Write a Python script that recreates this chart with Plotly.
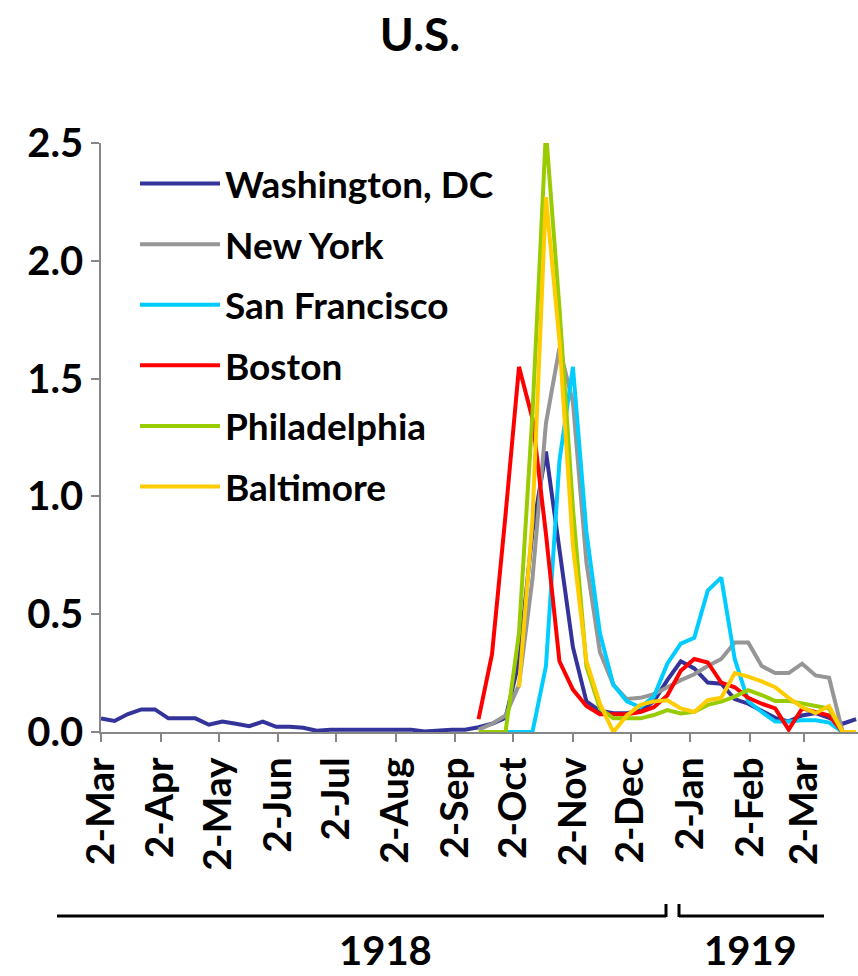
import datetime as dt
import plotly.graph_objects as go

# ---- data (weekly, starting 2 Mar 1918) ----
start_date = dt.date(1918, 3, 2)
n_weeks = 57
week_dates = [start_date + dt.timedelta(days=7 * k) for k in range(n_weeks)]

washington = [0.058, 0.047, 0.076, 0.096, 0.096, 0.058, 0.058, 0.058, 0.031, 0.044,
              0.035, 0.025, 0.044, 0.022, 0.022, 0.018, 0.005, 0.010, 0.010, 0.010,
              0.010, 0.010, 0.010, 0.010, 0.002, 0.008, 0.010, 0.010, 0.020, 0.035,
              0.060, 0.300, 0.850, 1.190, 0.780, 0.360, 0.130, 0.090, 0.080, 0.080,
              0.090, 0.130, 0.220, 0.300, 0.270, 0.210, 0.205, 0.140, 0.120, 0.090,
              0.060, 0.045, 0.070, 0.080, 0.060, 0.035, 0.055]

new_york = [None] * 28 + [0.010, 0.035, 0.070, 0.200, 0.650, 1.310, 1.630, 1.400, 0.720, 0.340,
                          0.200, 0.140, 0.145, 0.160, 0.190, 0.220, 0.245, 0.280, 0.310, 0.380,
                          0.380, 0.280, 0.250, 0.250, 0.290, 0.240, 0.230, 0.000]

san_francisco = [None] * 30 + [0.000, 0.000, 0.000, 0.280, 1.150, 1.550, 0.850, 0.420, 0.200, 0.130,
                               0.105, 0.150, 0.290, 0.375, 0.400, 0.600, 0.655, 0.310, 0.130, 0.085,
                               0.045, 0.045, 0.050, 0.050, 0.040, 0.000]

boston = [None] * 28 + [0.055, 0.330, 0.920, 1.550, 1.330, 0.840, 0.300, 0.180, 0.110, 0.075,
                        0.075, 0.075, 0.085, 0.105, 0.155, 0.260, 0.310, 0.295, 0.210, 0.190,
                        0.145, 0.120, 0.100, 0.010, 0.100, 0.085, 0.070, 0.000]

philadelphia = [None] * 28 + [0.000, 0.000, 0.000, 0.420, 1.350, 2.550, 1.800, 0.950, 0.280, 0.100,
                              0.058, 0.058, 0.058, 0.072, 0.093, 0.079, 0.086, 0.115, 0.129, 0.150,
                              0.178, 0.157, 0.132, 0.132, 0.119, 0.110, 0.100, 0.000]

baltimore = [None] * 31 + [0.190, 0.900, 2.270, 1.660, 0.790, 0.300, 0.120, 0.000, 0.070,
                           0.115, 0.130, 0.135, 0.100, 0.085, 0.135, 0.145, 0.250, 0.235, 0.215,
                           0.190, 0.145, 0.105, 0.080, 0.110, 0.000, 0.000]

series_names = ["Washington, DC", "New York", "San Francisco", "Boston", "Philadelphia", "Baltimore"]
series_values = [washington, new_york, san_francisco, boston, philadelphia, baltimore]
series_colors = ["#333399", "#969696", "#00CCFF", "#FF0000", "#99CC00", "#FFCC00"]

tick_dates = ["1918-03-02", "1918-04-02", "1918-05-02", "1918-06-02", "1918-07-02",
              "1918-08-02", "1918-09-02", "1918-10-02", "1918-11-02", "1918-12-02",
              "1919-01-02", "1919-02-02", "1919-03-02"]
y_ticks = [0, 0.5, 1.0, 1.5, 2.0, 2.5]
year_labels = ["1918", "1919"]

FONT = "Lato, 'Open Sans', sans-serif"

fig = go.Figure()
for name, vals, col in zip(series_names, series_values, series_colors):
    fig.add_trace(go.Scatter(
        x=week_dates, y=vals, name=name, mode="lines",
        line=dict(color=col, width=4), legendgroup=name,
    ))

W, H = 858, 976
L, R, T, B = 101, 0, 143, 244
pw, ph = W - L - R, H - T - B


def px_x(px):
    return (px - L) / pw


def px_y(py):
    return (H - B - py) / ph


shapes = [
    dict(type="line", xref="paper", yref="paper", x0=px_x(57), x1=px_x(666), y0=px_y(916), y1=px_y(916),
         line=dict(color="black", width=3)),
    dict(type="line", xref="paper", yref="paper", x0=px_x(666), x1=px_x(666), y0=px_y(917), y1=px_y(904),
         line=dict(color="black", width=3)),
    dict(type="line", xref="paper", yref="paper", x0=px_x(679), x1=px_x(824), y0=px_y(916), y1=px_y(916),
         line=dict(color="black", width=3)),
    dict(type="line", xref="paper", yref="paper", x0=px_x(679), x1=px_x(679), y0=px_y(917), y1=px_y(904),
         line=dict(color="black", width=3)),
]

annotations = [
    dict(text="<b>%s</b>" % year_labels[0], xref="paper", yref="paper", x=px_x(385), y=px_y(950),
         showarrow=False, font=dict(family=FONT, size=40, color="black"), xanchor="center", yanchor="middle"),
    dict(text="<b>%s</b>" % year_labels[1], xref="paper", yref="paper", x=px_x(750), y=px_y(950),
         showarrow=False, font=dict(family=FONT, size=40, color="black"), xanchor="center", yanchor="middle"),
]

fig.update_layout(
    width=W, height=H,
    margin=dict(l=L, r=R, t=T, b=B, autoexpand=False),
    paper_bgcolor="white", plot_bgcolor="white",
    font=dict(family=FONT, color="black"),
    title=dict(text="<b>U.S.</b>", x=420 / W, xref="container", xanchor="center",
               y=1 - 35 / H, yref="container", yanchor="middle",
               font=dict(family=FONT, size=46, color="black")),
    showlegend=True,
    legend=dict(x=px_x(135), y=px_y(153), xanchor="left", yanchor="top",
                bgcolor="rgba(0,0,0,0)", font=dict(family=FONT, size=37, color="black", weight="bold"),
                tracegroupgap=9.5, itemwidth=80),
    shapes=shapes,
    annotations=annotations,
)

fig.update_xaxes(
    type="date", range=["1918-03-02", "1919-03-30"],
    tickmode="array", tickvals=tick_dates, tickformat="%-d-%b", tickangle=-90,
    ticks="outside", ticklen=8, tickwidth=1.5, tickcolor="#868686",
    showline=True, linecolor="#868686", linewidth=1.5,
    showgrid=False, zeroline=False,
    tickfont=dict(family=FONT, size=39, color="black", weight="bold"),
)
fig.update_yaxes(
    range=[0, 2.5], tickmode="array", tickvals=y_ticks, tickformat=".1f",
    ticks="outside", ticklen=8, tickwidth=1.5, tickcolor="#868686",
    showline=True, linecolor="#868686", linewidth=1.5,
    showgrid=False, zeroline=False,
    tickfont=dict(family=FONT, size=40, color="black", weight="bold"),
)

fig.write_html("out.html", config={"displayModeBar": False},
               post_script="document.body.style.margin='0px';document.body.style.overflow='hidden';")
